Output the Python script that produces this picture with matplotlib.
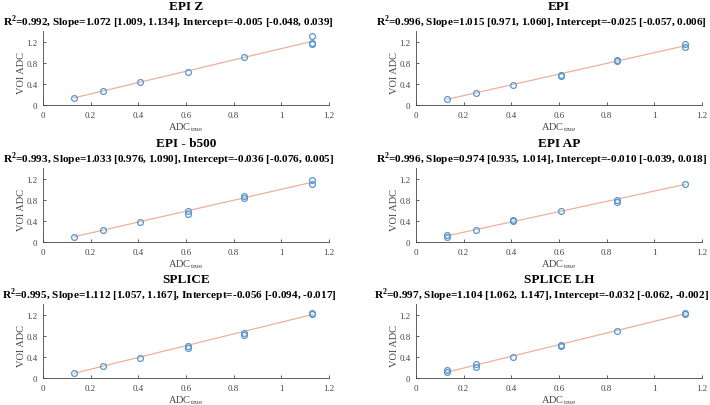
import numpy as np
import matplotlib
matplotlib.use("Agg")
import matplotlib.pyplot as plt

plt.rcParams['font.family'] = ['Liberation Serif', 'DejaVu Serif']
plt.rcParams['mathtext.fontset'] = 'custom'
plt.rcParams['mathtext.rm'] = 'Liberation Serif'
plt.rcParams['mathtext.bf'] = 'Liberation Serif:bold'

# reference ADC values (x) and measured VOI ADC (y) per sequence
titles = ["EPI Z", "EPI", "EPI - b500", "EPI AP", "SPLICE", "SPLICE LH"]
stats = [
    ("0.992", "1.072 [1.009, 1.134]", "-0.005 [-0.048, 0.039]"),
    ("0.996", "1.015 [0.971, 1.060]", "-0.025 [-0.057, 0.006]"),
    ("0.993", "1.033 [0.976, 1.090]", "-0.036 [-0.076, 0.005]"),
    ("0.996", "0.974 [0.935, 1.014]", "-0.010 [-0.039, 0.018]"),
    ("0.995", "1.112 [1.057, 1.167]", "-0.056 [-0.094, -0.017]"),
    ("0.997", "1.104 [1.062, 1.147]", "-0.032 [-0.062, -0.002]"),
]
slopes = [1.072, 1.015, 1.033, 0.974, 1.112, 1.104]
intercepts = [-0.005, -0.025, -0.036, -0.010, -0.056, -0.032]

x_epiz = [0.13, 0.25, 0.405, 0.61, 0.845, 1.13, 1.13, 1.13]
y_epiz = [0.14, 0.26, 0.43, 0.63, 0.90, 1.30, 1.18, 1.15]
x_epi = [0.13, 0.25, 0.405, 0.61, 0.61, 0.845, 0.845, 1.13, 1.13]
y_epi = [0.11, 0.23, 0.38, 0.57, 0.54, 0.85, 0.84, 1.15, 1.10]
x_b500 = [0.13, 0.25, 0.405, 0.61, 0.61, 0.845, 0.845, 1.13, 1.13]
y_b500 = [0.10, 0.22, 0.38, 0.58, 0.53, 0.87, 0.84, 1.18, 1.10]
x_ap = [0.13, 0.13, 0.25, 0.405, 0.405, 0.61, 0.845, 0.845, 1.13]
y_ap = [0.13, 0.10, 0.22, 0.41, 0.39, 0.58, 0.80, 0.76, 1.09]
x_splice = [0.13, 0.25, 0.405, 0.61, 0.61, 0.845, 0.845, 1.13, 1.13]
y_splice = [0.10, 0.23, 0.38, 0.60, 0.57, 0.86, 0.82, 1.22, 1.23]
x_lh = [0.13, 0.13, 0.25, 0.25, 0.405, 0.61, 0.61, 0.845, 1.13, 1.13]
y_lh = [0.15, 0.11, 0.26, 0.21, 0.40, 0.62, 0.60, 0.89, 1.22, 1.23]

xs = [x_epiz, x_epi, x_b500, x_ap, x_splice, x_lh]
ys = [y_epiz, y_epi, y_b500, y_ap, y_splice, y_lh]

W, H = 710, 406
fig = plt.figure(figsize=(W / 100, H / 100), dpi=100)

lefts = [43, 416]
zeros = [106, 243, 379]  # pixel row of y=0 for each row
axw = 286
axh = 74

grey = '#454545'
for i in range(6):
    r, c = divmod(i, 2)
    ax = fig.add_axes([lefts[c] / W, (H - zeros[r]) / H, axw / W, axh / H])
    xfit = np.array([min(xs[i]), max(xs[i])])
    ax.plot(xfit, slopes[i] * xfit + intercepts[i], color='#eeb09a', lw=0.9, zorder=1)
    ax.plot(xs[i], ys[i], 'o', mfc='none', mec='#5598d0', ms=4.2, mew=0.9, zorder=2)
    ax.set_xlim(0, 1.2)
    ax.set_ylim(0, 1.4)
    ax.set_xticks([0, 0.2, 0.4, 0.6, 0.8, 1, 1.2])
    ax.set_xticklabels(['0', '0.2', '0.4', '0.6', '0.8', '1', '1.2'])
    ax.set_yticks([0, 0.4, 0.8, 1.2])
    ax.set_yticklabels(['0', '0.4', '0.8', '1.2'])
    for s in ['top', 'right']:
        ax.spines[s].set_visible(False)
    for s in ['left', 'bottom']:
        ax.spines[s].set_color(grey)
        ax.spines[s].set_linewidth(0.6)
    ax.tick_params(direction='in', length=2, width=0.6, colors=grey,
                   labelsize=6.5, pad=4)
    ax.set_xlabel(r'ADC$_{\mathrm{true}}$', fontsize=7.5, color=grey)
    ax.xaxis.set_label_coords(0.5, -0.2)
    ax.set_ylabel('VOI ADC', fontsize=7.5, color=grey)
    ax.yaxis.set_label_coords(-0.06, 0.45)
    r2, sl, ic = stats[i]
    ax.text(0.5, 1.34, titles[i], transform=ax.transAxes, ha='center',
            va='center', fontsize=9.5, fontweight='bold')
    ax.text(0.44, 1.13, r'R$^{\mathbf{2}}$=' + r2 + ', Slope=' + sl + ', Intercept=' + ic,
            transform=ax.transAxes, ha='center', va='center', fontsize=8.1,
            fontweight='bold')

fig.savefig('out.png', dpi=100)
